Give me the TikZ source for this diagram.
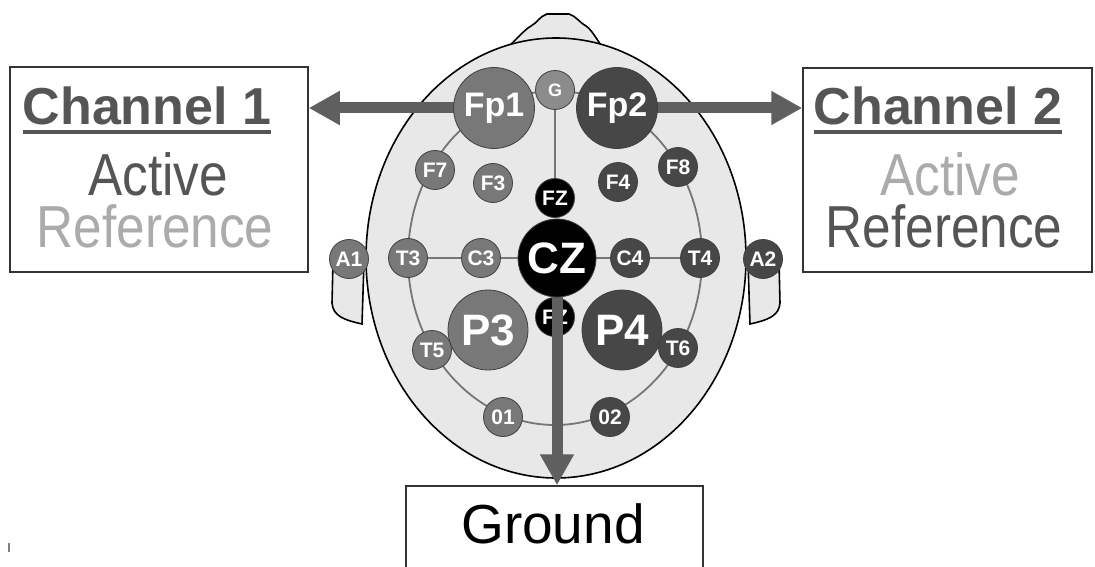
\documentclass[tikz,border=0pt]{standalone}
\usepackage{fontspec}
\setmainfont{Liberation Sans}
\usetikzlibrary{arrows.meta}

\definecolor{headc}{HTML}{E8E8E8}
\definecolor{ringc}{HTML}{767676}
\definecolor{eleft}{HTML}{787878}
\definecolor{eright}{HTML}{474747}
\definecolor{egnd}{HTML}{8C8C8C}
\definecolor{arrowc}{HTML}{5F5F5F}
\definecolor{darkt}{HTML}{555555}
\definecolor{lightt}{HTML}{ABABAB}
\definecolor{boxc}{HTML}{333333}

\pgfdeclarelayer{back}
\pgfdeclarelayer{arrowlayer}
\pgfsetlayers{back,arrowlayer,main}

\begin{document}
\begin{tikzpicture}[x=1pt,y=-1pt,
  electrode/.style={circle, draw=black!75, line width=0.8pt, inner sep=0pt,
    text=white, font=\bfseries\fontsize{21}{21}\selectfont},
  smallel/.style={electrode, minimum size=39pt},
  bigel/.style={electrode, minimum size=81pt, font=\bfseries\fontsize{34}{34}\selectfont},
  bigp/.style={electrode, minimum size=80pt, font=\bfseries\fontsize{44}{44}\selectfont},
  czel/.style={electrode, minimum size=78pt, fill=black, font=\bfseries\fontsize{44}{44}\selectfont},
  lside/.style={fill=eleft},
  rside/.style={fill=eright},
  cside/.style={fill=black},
  gside/.style={fill=egnd, font=\bfseries\fontsize{18}{18}\selectfont},
  infobox/.style={draw=boxc, line width=1.5pt, fill=white, rectangle, inner sep=0pt},
  title/.style={inner sep=0pt, anchor=base, text=darkt, font=\bfseries\fontsize{52}{52}\selectfont},
  role/.style={inner sep=0pt, anchor=base, font=\fontsize{57}{57}\selectfont},
  uline/.style={draw=darkt, line width=3.5pt},
  guide/.style={draw=ringc, line width=1.8pt},
  bigarrow/.style={draw=arrowc, line width=11pt, -{Triangle[length=31pt,width=32pt]}}
]
\useasboundingbox (0,0) rectangle (1095,567);

% electrodes
\node[smallel,gside] (G) at (555,90) {G};
\node[bigel,lside] (Fp1) at (494,108) {Fp1};
\node[bigel,rside] (Fp2) at (617,108) {Fp2};
\node[smallel,lside] (F7) at (435,170) {F7};
\node[smallel,lside] (F3) at (493,183) {F3};
\node[smallel,cside] (FZ) at (555,198) {FZ};
\node[smallel,rside] (F4) at (618,182) {F4};
\node[smallel,rside] (F8) at (678,167) {F8};
\node[smallel,lside] (A1) at (349,259) {A1};
\node[smallel,lside] (T3) at (408,258) {T3};
\node[smallel,lside] (C3) at (481,258) {C3};
\node[czel] (CZ) at (557,258) {CZ};
\node[smallel,rside] (C4) at (630,258) {C4};
\node[smallel,rside] (T4) at (700,258) {T4};
\node[smallel,rside] (A2) at (763,259) {A2};
\node[bigp,lside] (P3) at (488,330) {P3};
\node[bigp,rside] (P4) at (622,330) {P4};
\node[smallel,lside] (T5) at (432,350) {T5};
\node[smallel,rside] (T6) at (678,348) {T6};
\node[smallel,lside] (O1) at (503,417) {01};
\node[smallel,rside] (O2) at (610,417) {02};

% output boxes
\node[infobox, minimum width=298pt, minimum height=205pt] (ch1) at (159,169.5) {};
\node[infobox, minimum width=289pt, minimum height=204pt] (ch2) at (947.5,170) {};
\node[infobox, minimum width=297pt, minimum height=84pt] (gnd) at (554.5,528) {};

% box texts
\node[title] (c1t) at (147,125) {Channel 1};
\draw[uline] ([yshift=-7pt]c1t.base west) -- ([yshift=-7pt]c1t.base east);
\node[role, text=darkt] (c1a) at (158,195) {\scalebox{0.9}[1.04]{Active}};
\node[role, text=lightt] (c1r) at (155,247) {\scalebox{0.9}[1.04]{Reference}};

\node[title] (c2t) at (938,125) {Channel 2};
\draw[uline] ([yshift=-7pt]c2t.base west) -- ([yshift=-7pt]c2t.base east);
\node[role, text=lightt] (c2a) at (950,195) {\scalebox{0.9}[1.04]{Active}};
\node[role, text=darkt] (c2r) at (944,247) {\scalebox{0.9}[1.04]{Reference}};

\node[inner sep=0pt, anchor=base, font=\fontsize{55}{55}\selectfont] (gt) at (553,543) {Ground};

% head, guide lines and the hidden parietal electrode
\begin{pgfonlayer}{back}
  % nose
  \draw[fill=headc, line width=1.6pt]
    (507,48) .. controls (516,40) and (524,30) .. (531,26)
    .. controls (537,23) and (540,16) .. (547,14)
    -- (569,14) .. controls (576,16) and (580,23) .. (586,26)
    .. controls (592,30) and (597,40) .. (603,48) -- cycle;
  % ears
  \draw[fill=headc, line width=1.6pt]
    (364,262) -- (333,262) -- (332,303) .. controls (333,316) and (344,320) .. (362,324) -- cycle;
  \draw[fill=headc, line width=1.6pt]
    (748,262) -- (779,262) -- (780,303) .. controls (779,316) and (768,320) .. (750,324) -- cycle;
  % head outline
  \draw[fill=headc, line width=1.6pt] (556,258) ellipse [x radius=190, y radius=220];
  % guide ring and axes
  \draw[guide] (555,258) ellipse [x radius=147, y radius=167];
  \draw[guide] (T3) -- (T4);
  \draw[guide] (G) -- (FZ);
  \node[smallel,cside] (PZ) at (555,317) {FZ};
\end{pgfonlayer}

% signal routes
\begin{pgfonlayer}{arrowlayer}
  \draw[bigarrow] (Fp1.center) -- (Fp1.center -| ch1.east);
  \draw[bigarrow] (Fp2.center) -- (Fp2.center -| ch2.west);
  \draw[bigarrow] (CZ.center) -- (CZ.center |- gnd.north);
\end{pgfonlayer}

% stray mark in the lower left corner
\draw[gray, line width=2pt] (9,543) -- (9,552);
\end{tikzpicture}
\end{document}
